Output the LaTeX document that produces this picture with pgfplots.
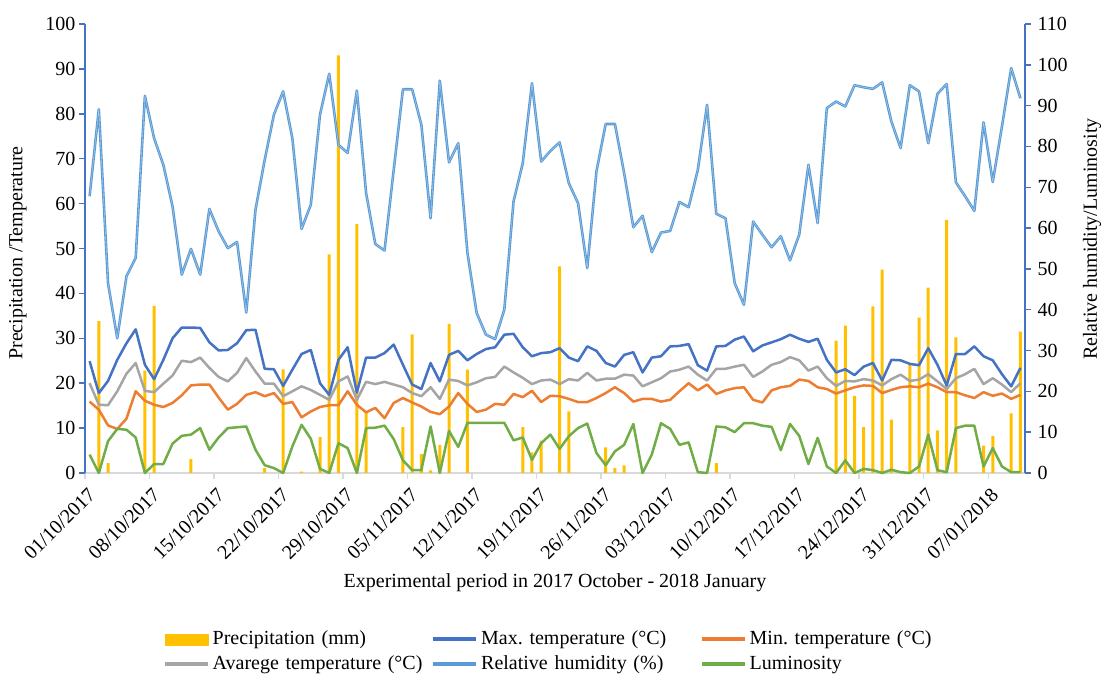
\documentclass[border=0pt]{standalone}
\usepackage{fontspec}
\setmainfont{Liberation Serif}
\usepackage{pgfplots}
\usepackage{pgfplotstable}
\pgfplotsset{compat=1.18}
\frenchspacing
\definecolor{cprec}{HTML}{FFC000}
\definecolor{cmax}{HTML}{4472C4}
\definecolor{cmin}{HTML}{ED7D31}
\definecolor{cavg}{HTML}{A5A5A5}
\definecolor{chum}{HTML}{5B9BD5}
\definecolor{clum}{HTML}{70AD47}
\definecolor{caxis}{HTML}{4472C4}
\definecolor{cgrid}{HTML}{D9D9D9}
\newcommand\tickfont{\fontsize{20}{24}\selectfont}
\newcommand\labfont{\fontsize{20}{24}\selectfont}

\pgfplotstableread{
i tmax tavg tmin
0 24.9 20.0 15.9
1 17.8 15.2 14.1
2 20.5 15.1 10.6
3 25.2 18.2 9.8
4 28.9 22.1 12.1
5 32.0 24.5 18.2
6 24.1 18.3 16.1
7 20.9 18.0 15.2
8 25.2 19.9 14.7
9 30.0 21.7 15.6
10 32.4 25.0 17.3
11 32.4 24.7 19.5
12 32.3 25.7 19.7
13 29.1 23.4 19.7
14 27.3 21.4 16.8
15 27.4 20.4 14.1
16 28.9 22.3 15.4
17 31.8 25.6 17.4
18 31.9 22.6 18.0
19 23.2 19.9 17.1
20 23.1 19.9 17.8
21 19.4 17.1 15.4
22 23.0 18.2 15.8
23 26.5 19.3 12.4
24 27.4 18.5 13.7
25 20.0 17.4 14.7
26 17.4 16.3 15.1
27 25.2 20.4 15.1
28 28.0 21.5 18.2
29 17.9 16.3 15.2
30 25.7 20.3 13.5
31 25.7 19.8 14.5
32 26.7 20.3 12.2
33 28.6 19.7 15.6
34 24.1 19.1 16.7
35 19.7 17.8 15.7
36 18.7 17.1 14.8
37 24.5 19.1 13.6
38 20.4 16.5 13.1
39 26.3 20.8 14.8
40 27.2 20.5 17.8
41 25.1 19.5 15.4
42 26.5 20.2 13.6
43 27.6 21.1 14.1
44 28.0 21.4 15.4
45 30.8 23.7 15.2
46 31.0 22.4 17.6
47 28.0 21.2 16.9
48 26.0 19.8 18.3
49 26.7 20.6 15.8
50 26.9 20.8 17.2
51 27.8 19.8 17.1
52 25.7 20.9 16.5
53 24.9 20.6 15.8
54 28.2 22.3 15.8
55 27.2 20.6 16.7
56 24.5 21.0 17.8
57 23.7 21.0 19.1
58 26.3 21.9 17.8
59 26.9 21.7 15.9
60 22.4 19.3 16.5
61 25.7 20.2 16.5
62 26.0 21.1 15.9
63 28.2 22.6 16.3
64 28.3 23.0 18.2
65 28.7 23.7 20.0
66 24.0 21.9 18.4
67 22.8 20.6 19.7
68 28.2 23.2 17.6
69 28.3 23.2 18.4
70 29.7 23.7 18.9
71 30.4 24.1 19.1
72 27.1 21.4 16.3
73 28.4 22.6 15.7
74 29.1 24.1 18.4
75 29.8 24.7 19.1
76 30.8 25.8 19.4
77 29.9 25.1 20.8
78 29.2 22.8 20.5
79 29.9 23.7 19.1
80 25.2 21.1 18.7
81 22.4 19.4 17.7
82 23.1 20.5 18.4
83 21.8 20.4 19.1
84 23.7 20.9 19.5
85 24.5 20.6 19.4
86 20.6 19.5 17.8
87 25.2 20.9 18.5
88 25.1 21.9 19.1
89 24.3 20.5 19.3
90 24.0 20.8 19.1
91 27.8 22.0 19.9
92 24.1 20.4 19.1
93 19.5 18.7 18.0
94 26.5 21.1 18.0
95 26.5 22.0 17.3
96 28.2 23.2 16.7
97 26.0 19.8 18.0
98 25.1 21.1 17.2
99 22.0 19.7 17.7
100 19.3 18.0 16.5
101 23.4 20.0 17.4
}\temps

\pgfplotstableread{
i hum lum
0 67.8 4.5
1 89.1 0
2 46.5 7.8
3 33.0 10.8
4 48.2 10.6
5 52.7 8.7
6 92.4 0
7 82.0 2.2
8 75.5 2.2
9 65.3 7.2
10 48.6 9.1
11 54.9 9.4
12 48.6 11.0
13 64.7 5.7
14 59.2 8.7
15 55.1 11.0
16 56.6 11.2
17 39.3 11.4
18 64.5 5.7
19 76.7 1.9
20 87.8 1.2
21 93.5 0
22 82.0 6.5
23 59.8 11.8
24 65.7 8.4
25 87.8 1.0
26 97.8 0
27 80.4 7.3
28 78.4 6.1
29 93.7 0
30 68.6 11.0
31 56.1 11.1
32 54.5 11.6
33 74.3 8.3
34 94.0 3.1
35 94.0 0.7
36 85.3 0.7
37 62.4 11.4
38 96.1 0
39 76.1 10.3
40 80.8 6.4
41 53.9 12.3
42 39.2 12.3
43 33.9 12.3
44 32.8 12.3
45 40.0 12.3
46 66.5 8.0
47 75.9 8.7
48 95.5 3.2
49 76.3 7.3
50 78.9 9.4
51 81.0 5.9
52 71.0 9.0
53 66.1 11.0
54 50.2 12.1
55 73.9 4.9
56 85.5 1.9
57 85.5 5.3
58 73.5 6.9
59 60.2 12.0
60 63.0 0
61 54.1 4.5
62 58.9 12.2
63 59.3 10.8
64 66.4 6.9
65 65.1 7.5
66 74.3 0.2
67 90.2 0
68 63.5 11.4
69 62.4 11.2
70 46.5 10.0
71 41.2 12.2
72 61.6 12.2
73 58.4 11.6
74 55.3 11.3
75 58.0 5.6
76 52.1 12.0
77 58.4 9.1
78 75.5 2.2
79 61.2 8.6
80 89.4 1.6
81 91.0 0
82 89.8 3.1
83 95.0 0
84 94.5 1.0
85 94.1 0.7
86 95.7 0
87 86.1 0.8
88 79.6 0.2
89 95.0 0
90 93.5 1.6
91 80.8 9.4
92 92.9 0.7
93 95.3 0.2
94 71.2 11.0
95 67.8 11.6
96 64.2 11.6
97 85.9 1.6
98 71.3 6.1
99 84.9 1.6
100 99.2 0.2
101 91.8 0.2
}\humlum

\pgfplotstableread{
i p
1 33.8
2 2.2
6 22.8
7 37.2
11 3.1
19 1.1
21 23.1
23 0.3
25 8.0
26 48.7
27 93.0
29 55.4
30 13.5
34 10.2
35 30.9
36 4.2
37 0.6
38 6.2
39 33.2
41 23.0
47 10.2
48 4.6
49 7.2
51 46.0
52 13.7
56 5.7
57 1.1
58 1.7
68 2.2
81 29.5
82 32.8
83 17.2
84 10.2
85 37.1
86 45.3
87 11.9
89 24.1
90 34.6
91 41.3
92 9.5
93 56.4
94 30.2
97 6.1
98 8.2
100 13.3
101 31.5
}\prec

\begin{document}
\begin{tikzpicture}
\path[use as bounding box] (0,0) rectangle (1102pt,684pt);
\begin{axis}[
  at={(85pt,211pt)}, anchor=south west,
  width=940pt, height=449pt, scale only axis,
  xmin=-0.5, xmax=101.5, ymin=0, ymax=100,
  clip=false,
  axis x line*=bottom, axis y line*=left,
  x axis line style={draw=cgrid, line width=1.3pt, -},
  y axis line style={draw=caxis, line width=1.5pt, -},
  tick align=outside, major tick length=6pt,
  xtick={-0.5,6.5,...,97.5}, xticklabels={},
  xtick style={draw=cgrid, line width=1.3pt},
  extra x ticks={0,7,14,21,28,35,42,49,56,63,70,77,84,91,98},
  extra x tick labels={01/10/2017,08/10/2017,15/10/2017,22/10/2017,29/10/2017,05/11/2017,12/11/2017,19/11/2017,26/11/2017,03/12/2017,10/12/2017,17/12/2017,24/12/2017,31/12/2017,07/01/2018},
  extra x tick style={major tick length=0pt},
  xticklabel style={font=\tickfont, xshift=3pt, yshift=-18pt, rotate=45, anchor=east, inner sep=1pt},
  ytick={0,10,...,100},
  ytick style={draw=caxis, line width=1.5pt},
  yticklabel style={font=\tickfont},
  /pgf/number format/assume math mode=true,
  xlabel={Experimental period in 2017 October - 2018 January},
  xlabel style={at={(axis description cs:0.5,-0.245)}, anchor=center, font=\labfont},
  ylabel={Precipitation /Temperature},
  ylabel style={at={(axis description cs:-0.0713,0.49)}, anchor=center, font=\labfont},
  line join=round,
]
\addplot[ybar, bar width=3pt, fill=cprec, draw=none, forget plot] table[x=i, y=p] {\prec};
\addplot[cmax, line width=2.5pt, forget plot] table[x=i, y=tmax] {\temps};
\addplot[cmin, line width=2.5pt, forget plot] table[x=i, y=tmin] {\temps};
\addplot[cavg, line width=2.5pt, forget plot] table[x=i, y=tavg] {\temps};
\end{axis}
\begin{axis}[
  at={(85pt,211pt)}, anchor=south west,
  width=940pt, height=449pt, scale only axis,
  xmin=-0.5, xmax=101.5, ymin=0, ymax=110,
  clip=false,
  axis x line=none, axis y line*=right,
  y axis line style={draw=caxis, line width=1.5pt, -},
  tick align=outside, major tick length=6pt,
  ytick={0,10,...,110},
  ytick style={draw=caxis, line width=1.5pt},
  yticklabel style={font=\tickfont, xshift=3pt},
  /pgf/number format/assume math mode=true,
  ylabel={Relative humidity/Luminosity},
  ylabel style={at={(axis description cs:1.0713,0.521)}, anchor=center, font=\labfont},
  line join=round,
  legend columns=3,
  legend cell align=left,
  legend style={draw=none, fill=none, at={(0.083,-0.343)}, anchor=north west,
    inner sep=0pt, font=\labfont, row sep=1pt,
    nodes={inner sep=3pt, text width=216pt, text height=14pt, text depth=4pt},
    /tikz/every even column/.append style={column sep=0pt}},
]
\addlegendimage{legend image code/.code={\fill[cprec] (0pt,-5.5pt) rectangle (43pt,5.5pt);}}
\addlegendentry{Precipitation (mm)}
\addlegendimage{legend image code/.code={\draw[cmax, line width=3.5pt] (0pt,0pt) -- (43pt,0pt);}}
\addlegendentry{Max. temperature (°C)}
\addlegendimage{legend image code/.code={\draw[cmin, line width=3.5pt] (0pt,0pt) -- (43pt,0pt);}}
\addlegendentry{Min. temperature (°C)}
\addlegendimage{legend image code/.code={\draw[cavg, line width=3.5pt] (0pt,0pt) -- (43pt,0pt);}}
\addlegendentry{Avarege temperature (°C)}
\addlegendimage{legend image code/.code={\draw[chum, line width=3.5pt] (0pt,0pt) -- (43pt,0pt);}}
\addlegendentry{Relative humidity (\%)}
\addlegendimage{legend image code/.code={\draw[clum, line width=3.5pt] (0pt,0pt) -- (43pt,0pt);}}
\addlegendentry{Luminosity}
\addplot[draw=chum, line width=1.1pt, double=chum!45!white, double distance=0.4pt, forget plot] table[x=i, y=hum] {\humlum};
\addplot[clum, line width=2.5pt, forget plot] table[x=i, y=lum] {\humlum};
\end{axis}
\end{tikzpicture}
\end{document}
